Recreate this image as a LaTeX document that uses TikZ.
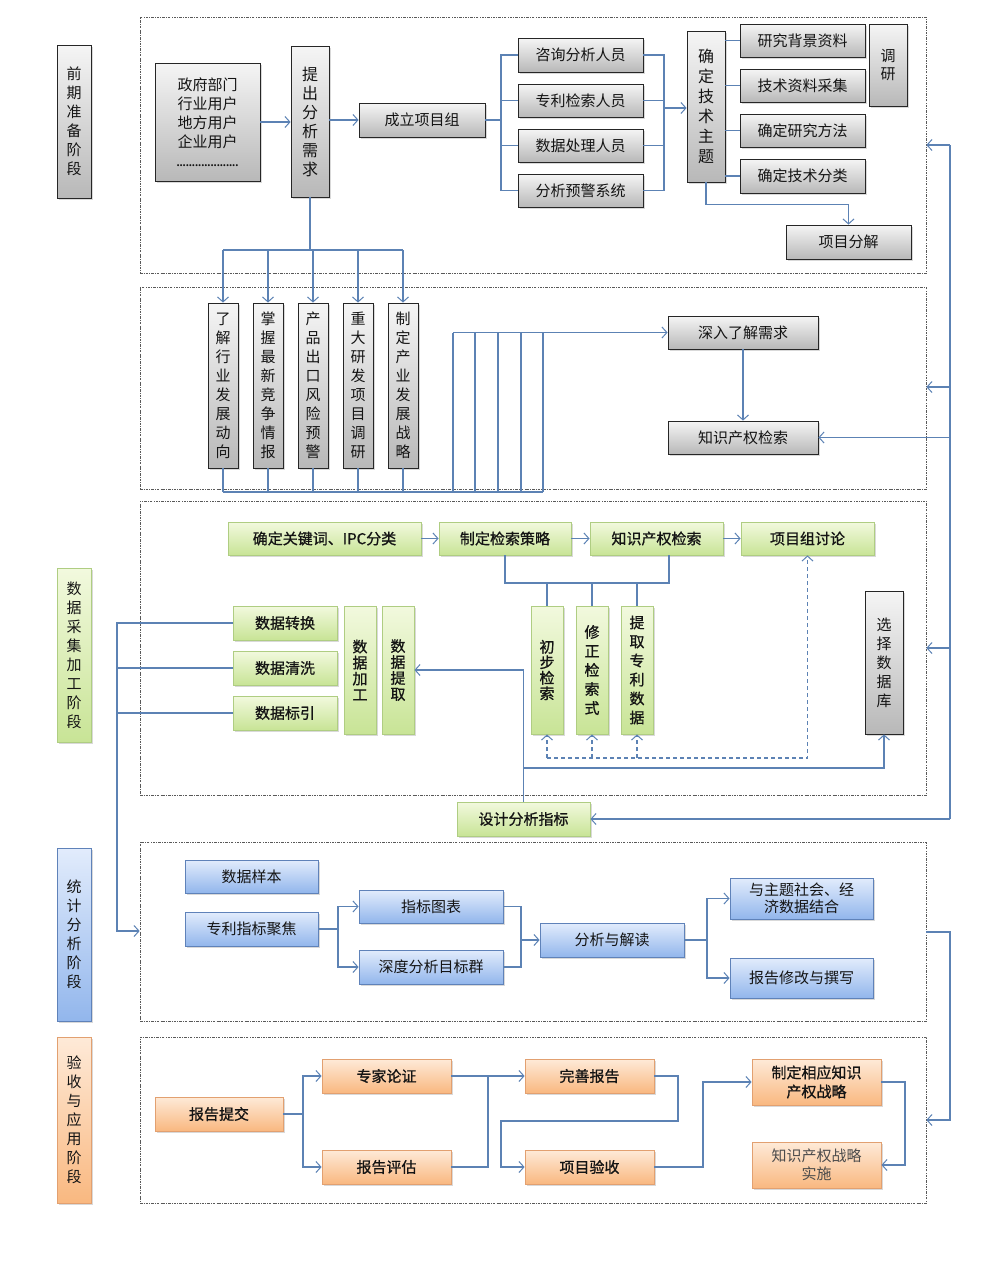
\documentclass[tikz,border=0pt]{standalone}
\usepackage{fontspec}
\setmainfont{Noto Sans CJK SC}
\newfontfamily\medfont[FakeBold=0.9]{Noto Sans CJK SC}
\usetikzlibrary{arrows.meta,shadows}
\definecolor{ln}{RGB}{92,130,180}
\definecolor{gtop}{RGB}{242,249,222}
\definecolor{gbot}{RGB}{200,228,150}
\definecolor{gdraw}{RGB}{175,205,130}
\definecolor{btop}{RGB}{226,236,252}
\definecolor{bbot}{RGB}{146,182,236}
\definecolor{bdraw}{RGB}{95,130,185}
\definecolor{otop}{RGB}{254,234,216}
\definecolor{obot}{RGB}{249,184,128}
\definecolor{odraw}{RGB}{226,160,112}
\definecolor{gytop}{RGB}{245,245,245}
\definecolor{gybot}{RGB}{184,184,184}
\definecolor{txt}{RGB}{20,20,20}
\newcommand\B[7]{\node[#1, minimum width={(#5-#3)*1pt}, minimum height={(#6-#4)*1pt}] (#2) at ({(#3+#5)/2},{(#4+#6)/2}) {#7};}
\begin{document}
\begin{tikzpicture}[x=1pt,y=-1pt,
 base/.style={inner sep=0pt, align=center, text=txt, font=\fontsize{15}{19}\selectfont,
   drop shadow={shadow xshift=1.5pt,shadow yshift=-1.5pt,opacity=0.3}},
 gy/.style={base, draw=black!85, line width=0.8pt, top color=gytop, bottom color=gybot},
 gn/.style={base, draw=gdraw, line width=0.8pt, top color=gtop, bottom color=gbot},
 bl/.style={base, draw=bdraw, line width=0.8pt, top color=btop, bottom color=bbot},
 og/.style={base, draw=odraw, line width=0.8pt, top color=otop, bottom color=obot},
 frame/.style={draw=black!65, line width=0.7pt, dash pattern=on 2.5pt off 1.2pt on 0.7pt off 1.2pt, inner sep=0pt},
 conn/.style={draw=ln, line width=1.1pt},
 arr/.style={conn, -{Straight Barb[length=5pt,width=11pt,line width=1pt]}},
 darr/.style={arr, dash pattern=on 4pt off 3pt},
 fs/.style={font=\fontsize{15}{#1}\selectfont},
 fb/.style={font=\medfont\fontsize{15}{#1}\selectfont},
]
\useasboundingbox (0,0) rectangle (987,1262);

% frames
\B{frame}{f1}{140}{17}{926}{273}{}
\B{frame}{f2}{140}{287}{926}{489}{}
\B{frame}{f3}{140}{501}{926}{795}{}
\B{frame}{f4}{140}{842}{926}{1021}{}
\B{frame}{f5}{140}{1037}{926}{1203}{}

% phase labels
\B{gy}{p1}{57}{45}{91}{198}{前\\期\\准\\备\\阶\\段}
\B{gn}{p2}{57}{568}{91}{742}{数\\据\\采\\集\\加\\工\\阶\\段}
\B{bl}{p3}{57}{848}{91}{1021}{统\\计\\分\\析\\阶\\段}
\B{og}{p4}{57}{1037}{91}{1203}{验\\收\\与\\应\\用\\阶\\段}

% frame 1
\B{gy}{gov}{155}{63}{260}{181}{政府部门\\行业用户\\地方用户\\企业用户\\\makebox[62pt]{\xleaders\hbox to 3pt{\hss.\hss}\hfill}}
\B{gy,font=\fontsize{16}{19}\selectfont}{tcxq}{291}{46}{329}{197}{提\\出\\分\\析\\需\\求}
\B{gy}{clxmz}{359}{103}{485}{137}{成立项目组}
\B{gy}{zx}{518}{38}{643}{72}{咨询分析人员}
\B{gy}{zl}{518}{84}{643}{117}{专利检索人员}
\B{gy}{sjcl}{518}{129}{643}{162}{数据处理人员}
\B{gy}{fxyj}{518}{174}{643}{207}{分析预警系统}
\B{gy,font=\fontsize{16}{20}\selectfont}{qd}{687}{31}{725}{182}{确\\定\\技\\术\\主\\题}
\B{gy}{yjbj}{740}{24}{865}{57}{研究背景资料}
\B{gy}{jszl}{740}{69}{865}{102}{技术资料采集}
\B{gy}{yjff}{740}{114}{865}{147}{确定研究方法}
\B{gy}{jsfl}{740}{159}{865}{193}{确定技术分类}
\B{gy,fs=18}{dy}{869}{24}{907}{106}{调\\研}
\B{gy}{xmfj}{786}{225}{911}{259}{项目分解}

% frame 2
\B{gy}{v1}{208}{303}{238}{468}{了\\解\\行\\业\\发\\展\\动\\向}
\B{gy}{v2}{253}{303}{283}{468}{掌\\握\\最\\新\\竞\\争\\情\\报}
\B{gy}{v3}{298}{303}{328}{468}{产\\品\\出\\口\\风\\险\\预\\警}
\B{gy}{v4}{343}{303}{373}{468}{重\\大\\研\\发\\项\\目\\调\\研}
\B{gy}{v5}{388}{303}{418}{468}{制\\定\\产\\业\\发\\展\\战\\略}
\B{gy}{srlj}{668}{316}{818}{349}{深入了解需求}
\B{gy}{zs2}{668}{421}{818}{454}{知识产权检索}

% frame 3
\B{gn,fb=19}{gjc}{228}{522}{421}{555}{确定关键词、IPC分类}
\B{gn,fb=19}{jscl}{439}{522}{571}{555}{制定检索策略}
\B{gn,fb=19}{zs3}{590}{522}{723}{555}{知识产权检索}
\B{gn,fb=19}{xmzt}{741}{522}{874}{555}{项目组讨论}
\B{gn,fb=19}{sjzh}{233}{606}{337}{640}{数据转换}
\B{gn,fb=19}{sjqx}{233}{651}{337}{685}{数据清洗}
\B{gn,fb=19}{sjby}{233}{696}{337}{730}{数据标引}
\B{gn,fb=16}{sjjg}{344}{606}{376}{734}{数\\据\\加\\工}
\B{gn,fb=16}{sjtq}{382}{606}{414}{734}{数\\据\\提\\取}
\B{gn,fb=15.5}{cbjs}{531}{606}{563}{734}{初\\步\\检\\索}
\B{gn,fb=19}{xzjs}{576}{606}{608}{734}{修\\正\\检\\索\\式}
\B{gn,fb=19}{tqzl}{621}{606}{653}{734}{提\\取\\专\\利\\数\\据}
\B{gy}{xzsjk}{865}{591}{903}{734}{选\\择\\数\\据\\库}
\B{gn,fb=19}{sjfx}{457}{802}{590}{836}{设计分析指标}

% frame 4
\B{bl}{sjyb}{185}{860}{318}{893}{数据样本}
\B{bl}{zlzb}{185}{912}{318}{946}{专利指标聚焦}
\B{bl}{zbtb}{359}{890}{503}{923}{指标图表}
\B{bl}{sdfx}{359}{950}{503}{984}{深度分析目标群}
\B{bl}{fxjd}{540}{923}{684}{957}{分析与解读}
\B{bl,fs=17}{yztj}{730}{878}{873}{919}{与主题社会、经\\济数据结合}
\B{bl}{bgxg}{730}{958}{873}{998}{报告修改与撰写}

% frame 5
\B{og,fb=19}{bgtj}{155}{1097}{283}{1131}{报告提交}
\B{og,fb=19}{zjlz}{322}{1059}{451}{1093}{专家论证}
\B{og,fb=19}{bgpg}{322}{1150}{451}{1184}{报告评估}
\B{og,fb=19}{wsbg}{525}{1059}{654}{1093}{完善报告}
\B{og,fb=19}{xmys}{525}{1150}{654}{1184}{项目验收}
\B{og,fb=19}{zdxy}{752}{1059}{881}{1105}{制定相应知识\\产权战略}
\B{og,fs=18,text=black!70}{sshi}{752}{1142}{881}{1188}{知识产权战略\\实施}

% ---------- connectors frame 1
\draw[arr] (gov.east) -- (gov.east -| tcxq.west);
\draw[arr] (tcxq.east |- clxmz.west) -- (clxmz.west);
\coordinate (x501) at (501,0);
\draw[conn] (clxmz.east) -- (clxmz.east -| x501);
\foreach \n in {zx,zl,sjcl,fxyj} \draw[conn] (\n.west) -| (clxmz.east -| x501);
\coordinate (j2) at (664,108);
\foreach \n in {zx,zl,sjcl,fxyj} \draw[conn] (\n.east) -| (j2);
\draw[arr] (j2) -- (j2 -| qd.west);
\foreach \n in {yjbj,jszl,yjff,jsfl} \draw[conn] (\n.west -| qd.east) -- (\n.west);
\draw[arr] (qd.south) -- ++(0,22) -| (xmfj.north);
\coordinate (y250) at (0,250);
\draw[conn] (tcxq.south) -- (tcxq.south |- y250);
\draw[conn] (v1.north |- y250) -- (v5.north |- y250);
\foreach \n in {v1,v2,v3,v4,v5} \draw[arr] (\n.north |- y250) -- (\n.north);

% frame 2
\coordinate (y492) at (0,492);
\coordinate (t5) at (543,492);
\foreach \n in {v1,v2,v3,v4,v5} \draw[conn] (\n.south) -- (\n.south |- y492);
\draw[conn] (v1.south |- y492) -- (t5);
\foreach \x in {453,475,498,521,543} {\coordinate (tt) at (\x,492); \draw[conn] (tt) -- (tt |- srlj.west);}
\coordinate (t1) at (453,0);
\draw[arr] (t1 |- srlj.west) -- (srlj.west);
\draw[arr] (srlj.south) -- (zs2.north);

% right bus
\coordinate (rb) at (950,0);
\coordinate (r145) at (950,145);
\coordinate (r387) at (950,387);
\coordinate (r648) at (950,648);
\draw[conn] (r145) -- (rb |- sjfx.east);
\draw[arr] (r145) -- (r145 -| f1.east);
\draw[arr] (r387) -- (r387 -| f2.east);
\draw[arr] (rb |- zs2.east) -- (zs2.east);
\draw[arr] (r648) -- (r648 -| f3.east);
\draw[arr] (rb |- sjfx.east) -- (sjfx.east);

% frame 3
\draw[arr] (gjc.east) -- (jscl.west);
\draw[arr] (jscl.east) -- (zs3.west);
\draw[arr] (zs3.east) -- (xmzt.west);
\coordinate (y583) at (0,583);
\coordinate (zr) at (669,555);
\draw[conn] (jscl.south) |- (zr |- y583) -- (zr);
\foreach \n in {cbjs,xzjs,tqzl} \draw[conn] (\n.north |- y583) -- (\n.north);
\coordinate (y758) at (0,758);
\foreach \n in {cbjs,xzjs,tqzl} \draw[darr] (\n.south |- y758) -- (\n.south);
\draw[darr] (cbjs.south |- y758) -| (xmzt.south);
\draw[arr] (sjfx.north) |- (sjtq.east);
\coordinate (y768) at (0,768);
\draw[arr] (sjfx.north |- y768) -| (xzsjk.south);
\coordinate (lb) at (117,931);
\draw[arr] (sjzh.west) -| (lb) -- (lb -| f4.west);
\draw[conn] (sjqx.west) -- (sjqx.west -| lb);
\draw[conn] (sjby.west) -- (sjby.west -| lb);

% frame 4
\coordinate (k1) at (338,0);
\draw[conn] (zlzb.east) -- (zlzb.east -| k1);
\draw[arr] (zlzb.east -| k1) |- (zbtb.west);
\draw[arr] (zlzb.east -| k1) |- (sdfx.west);
\coordinate (k2) at (521,0);
\draw[conn] (zbtb.east) -| (k2 |- sdfx.east) -- (sdfx.east);
\draw[arr] (k2 |- fxjd.west) -- (fxjd.west);
\coordinate (k3) at (707,0);
\draw[conn] (fxjd.east) -- (fxjd.east -| k3);
\draw[arr] (fxjd.east -| k3) |- (yztj.west);
\draw[arr] (fxjd.east -| k3) |- (bgxg.west);
\coordinate (q1) at (950,932);
\coordinate (q2) at (950,1120);
\draw[arr] (q1 -| f4.east) -- (q1) -- (q2) -- (q2 -| f5.east);

% frame 5
\coordinate (m1) at (303,0);
\draw[conn] (bgtj.east) -- (bgtj.east -| m1);
\draw[arr] (bgtj.east -| m1) |- (zjlz.west);
\draw[arr] (bgtj.east -| m1) |- (bgpg.west);
\coordinate (m2) at (488,0);
\draw[arr, line width=1.4pt] (zjlz.east) -- (wsbg.west);
\draw[conn] (bgpg.east) -| (m2 |- zjlz.east);
\coordinate (m3) at (678,1121);
\coordinate (m4) at (501,1121);
\draw[arr] (wsbg.east) -| (m3) -- (m4) |- (xmys.west);
\coordinate (m5) at (703,0);
\draw[arr] (xmys.east) -| (m5 |- zdxy.west) -- (zdxy.west);
\coordinate (m6) at (905,0);
\draw[arr] (zdxy.east) -| (m6 |- sshi.east) -- (sshi.east);
\end{tikzpicture}
\end{document}
